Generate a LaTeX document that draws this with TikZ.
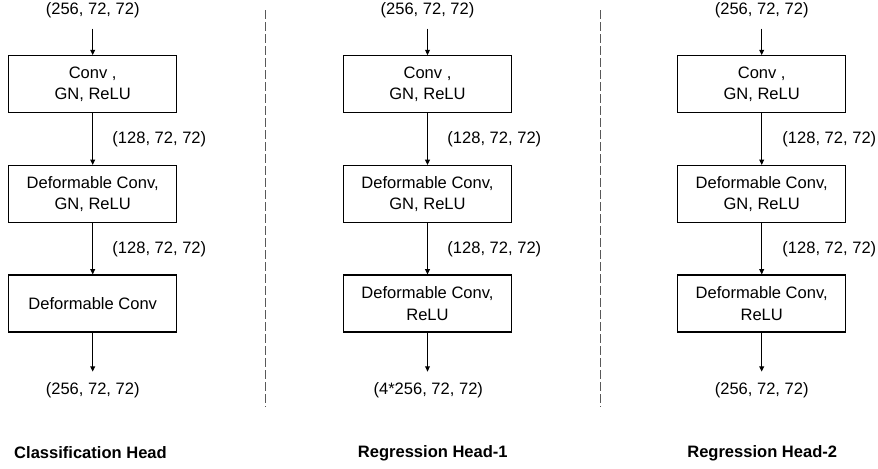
\documentclass[tikz,border=0pt]{standalone}
\usepackage{fontspec}
\setmainfont{Liberation Sans}
\usetikzlibrary{arrows.meta}
\begin{document}
\begin{tikzpicture}[x=0.75pt,y=-0.75pt,
  every node/.style={font=\fontsize{12.4pt}{16.1pt}\selectfont},
  blk/.style={draw=black,line width=0.8pt,minimum width=126pt,minimum height=42.75pt,inner sep=0pt,align=center},
  dim/.style={inner sep=0pt},
  dimr/.style={inner sep=0pt,anchor=west},
  ttl/.style={inner sep=0pt,font=\fontsize{12.4pt}{16.1pt}\selectfont\bfseries},
  arr/.style={draw=black,line width=0.8pt,-{Triangle[length=4pt,width=3.6pt]}},
  arrin/.style={arr,shorten <=7.7pt},
  arrout/.style={arr,shorten >=7.8pt},
  sepline/.style={draw=black!65,line width=1.1pt,dash pattern=on 6.8pt off 2.2pt}]
\useasboundingbox (0,0) rectangle (878,468);
% column 1
\node[dim] (in1) at (92.7,10.5) {(256, 72, 72)};
\node[blk] (b11) at (92.7,84.2) {Conv ,\\GN, ReLU};
\node[blk] (b12) at (92.7,194) {Deformable Conv,\\GN, ReLU};
\node[blk] (b13) at (92.7,303.5) {Deformable Conv};
\node[dim] (out1) at (92.7,390) {(256, 72, 72)};
\node[dimr] (m11) at (112.2,139.3) {(128, 72, 72)};
\node[dimr] (m12) at (112.2,249) {(128, 72, 72)};
\node[ttl] (t1) at (90.5,453) {Classification Head};
\draw[arrin] (in1.south) -- (b11.north);
\draw[arr] (b11.south) -- (b12.north);
\draw[arr] (b12.south) -- (b13.north);
\draw[arrout] (b13.south) -- (out1.north);
% column 2
\node[dim] (in2) at (427.5,10.5) {(256, 72, 72)};
\node[blk] (b21) at (427.5,84.2) {Conv ,\\GN, ReLU};
\node[blk] (b22) at (427.5,194) {Deformable Conv,\\GN, ReLU};
\node[blk] (b23) at (427.5,303.5) {Deformable Conv,\\ReLU};
\node[dim] (out2) at (428.3,390) {(4*256, 72, 72)};
\node[dimr] (m21) at (447.2,139.3) {(128, 72, 72)};
\node[dimr] (m22) at (447.2,249) {(128, 72, 72)};
\node[ttl] (t2) at (432.8,453) {Regression Head-1};
\draw[arrin] (in2.south) -- (b21.north);
\draw[arr] (b21.south) -- (b22.north);
\draw[arr] (b22.south) -- (b23.north);
\draw[arrout] (b23.south -| b23.south) -- (out2.north -| b23.south);
% column 3
\node[dim] (in3) at (761.7,10.5) {(256, 72, 72)};
\node[blk] (b31) at (761.7,84.2) {Conv ,\\GN, ReLU};
\node[blk] (b32) at (761.7,194) {Deformable Conv,\\GN, ReLU};
\node[blk] (b33) at (761.7,303.5) {Deformable Conv,\\ReLU};
\node[dim] (out3) at (761.7,390) {(256, 72, 72)};
\node[dimr] (m31) at (782.2,139.3) {(128, 72, 72)};
\node[dimr] (m32) at (782.2,249) {(128, 72, 72)};
\node[ttl] (t3) at (762.2,453) {Regression Head-2};
\draw[arrin] (in3.south) -- (b31.north);
\draw[arr] (b31.south) -- (b32.north);
\draw[arr] (b32.south) -- (b33.north);
\draw[arrout] (b33.south) -- (out3.north);
% separators
\coordinate (s1a) at (265.7,10);
\coordinate (s1b) at (265.7,407);
\coordinate (s2a) at (600.7,10);
\coordinate (s2b) at (600.7,407);
\draw[sepline] (s1a) -- (s1b);
\draw[sepline] (s2a) -- (s2b);
\end{tikzpicture}
\end{document}
